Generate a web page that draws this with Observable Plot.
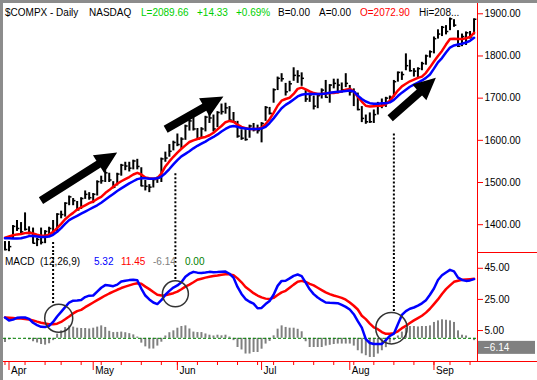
<!DOCTYPE html>
<html><head><meta charset="utf-8">
<script src="https://cdn.jsdelivr.net/npm/d3@7"></script>
<script src="https://cdn.jsdelivr.net/npm/@observablehq/plot@0.6"></script>
<style>
html,body{margin:0;padding:0;background:#fff}
#chart{position:relative;width:537px;height:380px;overflow:hidden;font-family:"Liberation Sans",Arial,sans-serif}
#chart svg{display:block}
#border{position:absolute;left:0;top:0;width:537px;height:380px;box-sizing:border-box;border-top:3px solid #8c8c8c;border-left:3px solid #8c8c8c;pointer-events:none}
</style></head><body><div id="chart"><div id="border"></div></div>
<script>
// ---- daily data, trading days 31 Mar 2003 .. 16 Sep 2003 (index = trading day) ----
const high = [1360,1360,1398,1410,1405,1428,1395,1392,1368,1392,
1386,1394,1410,1426,1432,1452,1468,1462,1455,1464,
1480,1476,1474,1504,1515,1528,1522,1502,1522,1543,
1548,1548,1553,1555,1535,1505,1495,1510,1513,1558,
1572,1590,1598,1615,1606,1636,1648,1668,1628,1630,
1657,1665,1660,1668,1686,1688,1680,1666,1645,1625,
1630,1636,1640,1636,1642,1680,1678,1722,1750,1758,
1735,1740,1772,1765,1760,1718,1712,1705,1710,1722,
1742,1732,1745,1745,1736,1758,1730,1722,1712,1680,
1660,1665,1672,1690,1698,1702,1705,1742,1762,1762,
1805,1790,1770,1772,1785,1802,1812,1845,1862,1870,
1872,1890,1886,1860,1852,1857,1858,1888];
const low = [1338,1336,1366,1384,1378,1385,1376,1355,1348,1352,
1355,1375,1378,1380,1414,1418,1445,1445,1433,1436,
1460,1458,1450,1468,1496,1500,1500,1485,1492,1515,
1528,1525,1530,1530,1490,1480,1476,1487,1498,1500,
1548,1560,1575,1585,1580,1600,1622,1622,1600,1605,
1620,1640,1620,1630,1660,1662,1643,1640,1605,1600,
1598,1605,1620,1615,1594,1645,1660,1688,1718,1738,
1705,1715,1740,1735,1728,1690,1690,1672,1675,1698,
1700,1688,1722,1710,1712,1725,1705,1680,1670,1642,
1638,1640,1640,1660,1675,1678,1695,1702,1738,1742,
1765,1762,1750,1746,1765,1778,1795,1805,1840,1846,
1850,1860,1868,1820,1822,1825,1840,1850];
const close = [1341,1348,1396,1391,1383,1389,1382,1356,1365,1358,
1384,1391,1380,1425,1424,1451,1466,1457,1435,1462,
1472,1464,1472,1502,1504,1523,1506,1489,1520,1541,
1539,1534,1551,1538,1492,1491,1489,1507,1510,1556,
1558,1574,1595,1590,1603,1634,1646,1627,1603,1627,
1655,1653,1627,1666,1668,1677,1648,1644,1610,1605,
1602,1634,1625,1623,1640,1678,1664,1720,1747,1746,
1715,1734,1754,1753,1747,1698,1708,1681,1706,1719,
1702,1731,1735,1731,1720,1735,1715,1714,1673,1652,
1644,1644,1661,1687,1687,1700,1702,1739,1761,1756,
1777,1765,1764,1770,1782,1800,1810,1841,1852,1868,
1858,1888,1873,1823,1846,1855,1845,1887];
const maRed = [1369,1372,1375,1377,1378,1380,1381,1379,1376,1374,
1374,1376,1383,1392,1402,1413,1421,1428,1436,1441,
1446,1451,1455,1461,1466,1475,1482,1490,1497,1503,
1508,1513,1519,1523,1519,1512,1510,1509,1510,1521,
1538,1550,1561,1571,1580,1588,1596,1600,1603,1606,
1608,1612,1618,1626,1634,1643,1646,1644,1637,1632,
1629,1627,1627,1627,1630,1638,1650,1665,1682,1694,
1698,1701,1710,1722,1725,1721,1716,1712,1710,1710,
1711,1712,1712,1714,1716,1720,1722,1716,1703,1692,
1682,1680,1681,1682,1682,1686,1694,1706,1718,1728,
1734,1740,1744,1748,1751,1760,1773,1787,1800,1812,
1827,1840,1841,1840,1840,1842,1845,1855];
const maBlue = [1368,1368,1367,1367,1368,1370,1373,1373,1372,1371,
1371,1372,1376,1383,1392,1402,1411,1416,1421,1426,
1431,1436,1441,1446,1452,1459,1466,1473,1480,1486,
1492,1498,1503,1508,1510,1510,1509,1509,1510,1514,
1522,1532,1543,1553,1562,1568,1574,1581,1587,1592,
1597,1603,1608,1614,1621,1627,1632,1634,1632,1629,
1628,1627,1627,1627,1628,1632,1641,1652,1664,1676,
1684,1690,1697,1704,1708,1710,1710,1710,1710,1710,
1711,1713,1714,1715,1716,1717,1718,1716,1706,1698,
1692,1688,1687,1687,1688,1688,1690,1696,1705,1713,
1720,1727,1732,1737,1742,1748,1756,1770,1785,1795,
1808,1820,1825,1827,1829,1832,1836,1843];
const macdLine = [13.4,11.5,12.0,13.2,13.4,13.4,12.5,10.0,8.5,7.4,
7.3,8.0,10.5,14.0,17.0,20.0,23.0,24.2,24.3,24.6,
26.5,27.4,27.5,30.0,32.5,34.2,34.0,33.5,34.5,36.5,
37.0,37.4,37.6,37.3,32.0,27.5,25.0,23.0,22.0,24.5,
28.0,30.5,32.6,34.0,36.0,39.5,41.5,42.7,42.2,42.0,
42.3,42.7,42.5,42.6,42.8,42.9,41.5,39.0,33.0,28.5,
25.2,23.5,22.3,19.3,19.5,22.0,24.0,28.0,33.7,36.9,
37.0,38.5,40.1,41.0,40.0,35.8,31.5,28.4,26.2,24.5,
23.0,22.8,22.7,22.6,21.5,20.2,18.5,15.5,11.0,6.9,
-0.5,-3.0,-3.7,-3.7,-3.6,-1.2,1.5,3.0,9.0,15.0,
17.5,19.0,19.8,21.0,22.5,24.5,28.0,32.0,37.5,40.5,
42.3,44.0,43.0,39.0,37.5,36.9,37.2,38.0];
const signalLine = [13.4,13.2,13.0,12.8,12.7,12.4,12.1,11.5,10.7,10.0,
9.5,9.1,9.1,9.4,10.5,12.2,14.0,16.0,17.5,18.3,
20.0,21.5,23.0,24.5,26.0,27.5,28.8,30.0,31.2,32.3,
33.2,34.0,34.8,35.4,35.0,33.2,31.6,29.8,28.0,27.5,
27.7,28.3,29.0,30.0,31.5,33.2,34.5,36.0,37.6,38.3,
39.0,39.6,40.0,40.4,40.9,41.2,41.1,40.6,38.5,36.0,
33.0,31.0,29.0,27.5,26.3,25.5,25.2,26.0,27.8,29.5,
30.5,32.5,34.5,36.3,36.9,36.2,35.0,34.0,32.5,31.0,
29.5,28.4,27.5,26.8,26.0,24.8,23.0,20.9,18.5,14.5,
12.3,9.5,7.0,5.9,4.0,2.9,3.0,3.3,4.5,6.5,
8.0,9.8,11.5,13.0,14.5,16.5,19.0,22.0,25.0,28.5,
31.6,34.0,36.3,37.0,37.6,37.8,38.0,38.2];
const histo = [-2.7,-1.0,-0.3,0,0,-0.3,-1.0,-2.2,-3.0,-4.0,
-4.4,-3.5,-1.5,2.7,4.8,6.9,8.0,7.2,6.5,6.3,
6.3,6.0,6.5,7.2,8.0,7.0,4.5,3.7,3.8,4.0,
3.6,3.0,2.2,0.8,-3.1,-5.5,-6.9,-6.9,-5.0,-2.5,
1.5,3.6,4.8,6.5,7.6,8.0,6.0,4.0,3.7,3.7,
2.8,2.0,1.5,2.0,1.6,2.0,0.8,-1.5,-5.9,-7.5,
-10.1,-10.1,-9.1,-9.1,-7.0,-3.7,-2.0,1.6,5.9,8.0,
7.0,6.5,6.5,5.8,4.2,-2.2,-5.9,-5.9,-5.9,-5.9,
-5.0,-4.5,-4.0,-3.7,-3.7,-3.7,-3.7,-5.0,-8.0,-10.0,
-11.2,-12.3,-12.3,-10.1,-8.0,-6.0,-3.1,-1.5,1.5,4.0,
6.3,7.6,7.6,7.3,7.6,7.6,8.0,10.2,11.2,11.9,
11.6,11.2,10.2,4.8,2.0,1.5,-0.5,-1.5];

// ---- axis ticks / labels ----
const monthNames = ["Apr","May","Jun","Jul","Aug","Sep"];
const monthStart = [1,22,43,64,86,107];           // first trading day of each month
const weekStart = [0,5,10,14,19,24,29,34,39,43,48,53,58,63,67,72,77,82,87,92,97,102,107,111,116];
const priceTicks = [1400,1500,1600,1700,1800,1900];
const macdTicks = [5,25,45];

// ---- header texts ----
const headerTexts = ["$COMPX - Daily","NASDAQ","L=2089.66","+14.33","+0.69%","B=0.00","A=0.00","O=2072.90","Hi=208..."];
const headerColors = ["#000","#000","#00d000","#00d000","#00d000","#000","#000","#f00","#000"];
const headerX = [5,89,141,197,236,278,319,360,419];
const macdTexts = ["MACD  (12,26,9)","5.32","11.45","-6.14","0.00"];
const macdColors = ["#000","#0000ff","#f00","#808080","#008000"];
const macdX = [5,94,121,153,185];
const lastHist = -6.14;

// ---- annotations (trading-day index, value) ----
const arrows = [
  {x1:9.1, y1:1456, x2:28.1, y2:1570},
  {x1:40.2, y1:1625, x2:54.6, y2:1703},
  {x1:96.2, y1:1651, x2:107.6, y2:1747}
];
const guides = [ {i:12, p:1358, m:21.5}, {i:42.5, p:1521, m:37.1}, {i:97, p:1615, m:16.6} ];
const circles = [ {i:13.4, m:12.9, r:14}, {i:42.5, m:28.6, r:13}, {i:96.4, m:6.5, r:15.7} ];

const days = d3.range(high.length);
const bars = days.map(i => ({i, h:high[i], l:low[i], c:close[i], r:maRed[i], b:maBlue[i],
  macd:macdLine[i], sig:signalLine[i], hist:histo[i]}));

const xDomain = [-0.374, 117.86];
const priceDomain = [1331.7, 1924.4];
const macdDomain = [-14.9, 54.5];
const FONT = "Liberation Sans, Arial, sans-serif";
const RED = "#ff0000";

const price = Plot.plot({
  width:537, height:253, marginTop:3, marginBottom:0, marginLeft:3, marginRight:60,
  x:{type:"linear", domain:xDomain, axis:null},
  y:{type:"linear", domain:priceDomain, axis:null},
  style:{fontFamily:FONT, fontSize:"10px", background:"transparent", overflow:"visible"},
  marks:[
    Plot.ruleX(guides,{x:"i", y1:"p", y2:priceDomain[0], stroke:"#000", strokeWidth:2, strokeDasharray:"2,2"}),
    Plot.ruleX(bars,{x:"i", y1:"l", y2:"h", stroke:"#000", strokeWidth:2}),
    Plot.ruleY(bars,{y:"c", x1:"i", x2:d=>d.i+0.7, stroke:"#000", strokeWidth:1.5}),
    Plot.line(bars,{x:"i", y:"r", stroke:"#ff0000", strokeWidth:2.5}),
    Plot.line(bars,{x:"i", y:"b", stroke:"#0000ff", strokeWidth:2.5}),
    Plot.ruleX([xDomain[1]],{stroke:RED, strokeWidth:1}),
    Plot.axisY(priceTicks,{anchor:"right", tickSize:5, tickPadding:2, tickFormat:d3.format(".2f"),
      stroke:RED, fill:"#000", fontSize:10, label:null})
  ]
});

const macd = Plot.plot({
  width:537, height:127, marginTop:0, marginBottom:19, marginLeft:3, marginRight:60,
  x:{type:"linear", domain:xDomain, axis:null},
  y:{type:"linear", domain:macdDomain, axis:null},
  r:{type:"identity"},
  style:{fontFamily:FONT, fontSize:"10px", background:"transparent", overflow:"visible"},
  marks:[
    Plot.ruleX(guides,{x:"i", y1:macdDomain[1], y2:"m", stroke:"#000", strokeWidth:2, strokeDasharray:"2,2"}),
    Plot.ruleX(bars,{x:"i", y1:0, y2:"hist", stroke:"#808080", strokeWidth:2}),
    Plot.ruleY([0],{stroke:"#008000", strokeWidth:1, strokeDasharray:"3,2"}),
    Plot.line(bars,{x:"i", y:"sig", stroke:"#ff0000", strokeWidth:2.5}),
    Plot.line(bars,{x:"i", y:"macd", stroke:"#0000ff", strokeWidth:2.5}),
    Plot.dot(circles,{x:"i", y:"m", r:"r", stroke:"#333", strokeWidth:1.5, fill:"none"}),
    Plot.ruleX([xDomain[1]],{stroke:RED, strokeWidth:1}),
    Plot.axisY(macdTicks,{anchor:"right", tickSize:5, tickPadding:2, tickFormat:d3.format(".2f"),
      stroke:RED, fill:"#000", fontSize:10, label:null}),
    Plot.axisX(weekStart,{anchor:"bottom", tickSize:4, tickFormat:()=>"", stroke:RED, label:null}),
    Plot.axisX(monthStart,{anchor:"bottom", tickSize:9, tickFormat:()=>"", stroke:RED, label:null}),
    Plot.axisX(monthStart,{anchor:"bottom", tickSize:0, tickPadding:5, textAnchor:"start", dx:2,
      tickFormat:d=>monthNames[monthStart.indexOf(d)], fill:"#000", fontSize:10, label:null})
  ]
});

const chart = document.getElementById("chart");
chart.insertBefore(price, chart.firstChild);
chart.insertBefore(macd, price.nextSibling);

// decorations placed with the plots' own scales
const px = price.scale("x"), py = price.scale("y"), my = macd.scale("y");
const ps = d3.select(price), ms = d3.select(macd);
const ag = ps.append("g");
arrows.forEach(a => {
  const T = [px.apply(a.x1), py.apply(a.y1)], P = [px.apply(a.x2), py.apply(a.y2)];
  const dx = P[0]-T[0], dy = P[1]-T[1], len = Math.hypot(dx,dy);
  const u = [dx/len, dy/len], n = [-u[1], u[0]];
  const w = 4, L = 22, H = 10.5;
  const B = [P[0]-u[0]*L, P[1]-u[1]*L];
  const pts = [
    [T[0]+n[0]*w, T[1]+n[1]*w],[B[0]+n[0]*w, B[1]+n[1]*w],[B[0]+n[0]*H, B[1]+n[1]*H],
    P,[B[0]-n[0]*H, B[1]-n[1]*H],[B[0]-n[0]*w, B[1]-n[1]*w],[T[0]-n[0]*w, T[1]-n[1]*w]];
  ag.append("path").attr("d","M"+pts.map(p=>p.join(",")).join("L")+"Z").attr("fill","#000");
});
const hg = ps.append("g").attr("text-anchor","start").attr("font-family",FONT).attr("font-size",10);
headerTexts.forEach((t,k)=>{
  hg.append("text").attr("x",headerX[k]).attr("y",16).attr("fill",headerColors[k]).text(t);
});
ps.append("line").attr("x1",477).attr("x2",537).attr("y1",252.5).attr("y2",252.5).attr("stroke",RED);
const mg = ms.append("g").attr("text-anchor","start").attr("font-family",FONT).attr("font-size",10);
macdTexts.forEach((t,k)=>{
  mg.append("text").attr("x",macdX[k]).attr("y",11.5).attr("fill",macdColors[k])
    .style("white-space","pre").text(t);
});
ms.append("line").attr("x1",3).attr("x2",537).attr("y1",108.5).attr("y2",108.5).attr("stroke",RED);
const yb = my.apply(lastHist);
ms.append("rect").attr("x",478).attr("y",yb-6.5).attr("width",57).attr("height",13).attr("fill","#808080");
ms.append("text").attr("x",484).attr("y",yb+3.5).attr("text-anchor","start").attr("fill","#fff")
  .attr("font-family",FONT).attr("font-size",10).text(d3.format(".2f")(lastHist));
</script>
</body></html>
